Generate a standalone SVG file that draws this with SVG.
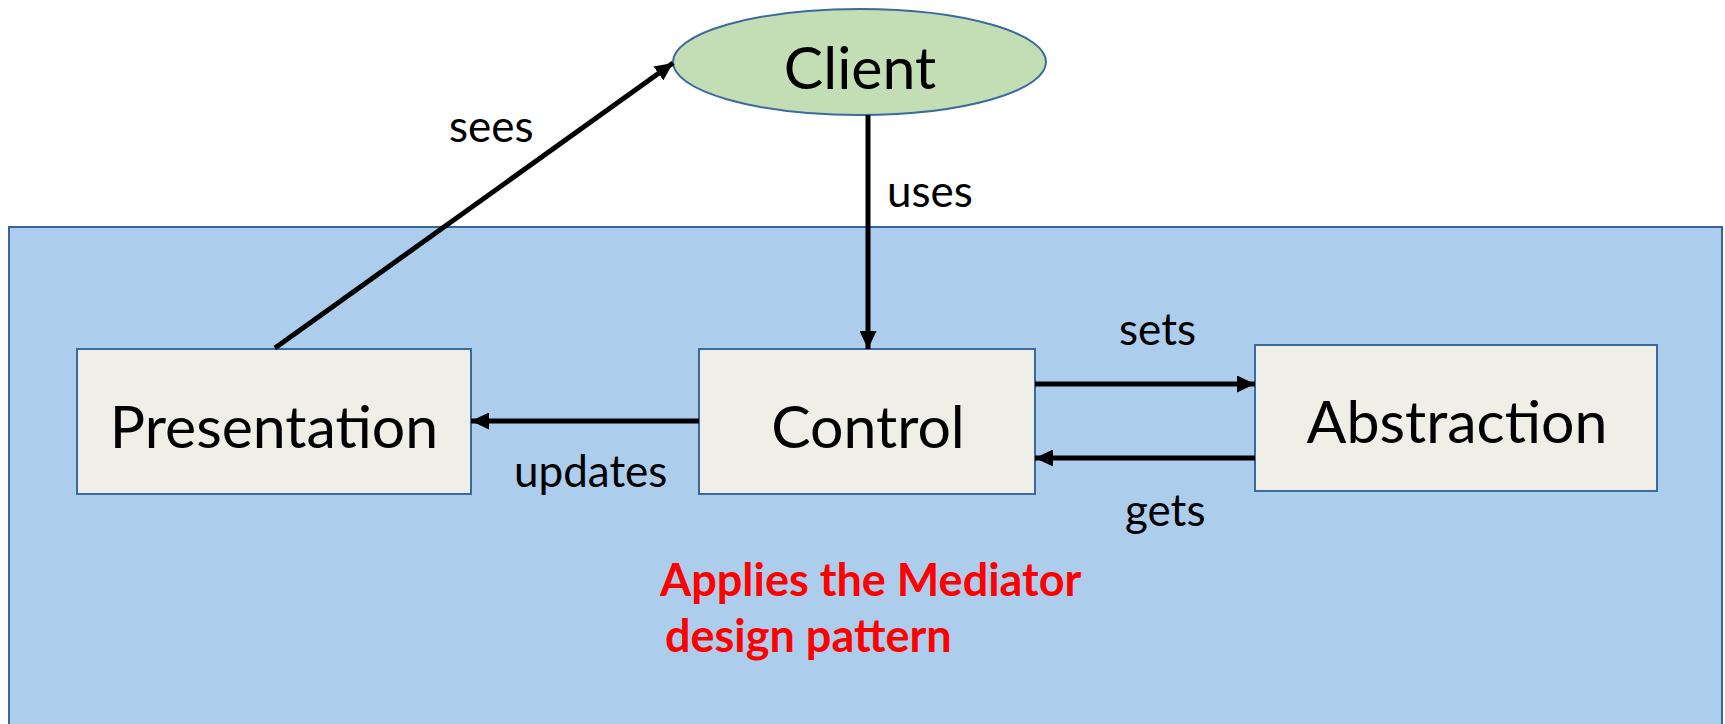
<svg xmlns="http://www.w3.org/2000/svg" width="1725" height="724" viewBox="0 0 1725 724">
  <style>
    .panel { fill: #adcdec; stroke: #3465a0; stroke-width: 2; }
    .box { fill: #efefe8; stroke: #3a6a9e; stroke-width: 2; }
    .ellipse { fill: #c3ddb5; stroke: #3a6a9e; stroke-width: 2; }
    .name { font-family: Lato, "Open Sans", sans-serif; font-size: 59px; fill: #000; text-anchor: middle; }
    .label { font-family: Lato, "Open Sans", sans-serif; font-size: 44px; fill: #000; }
    .note { font-family: Lato, "Open Sans", sans-serif; font-size: 45px; font-weight: bold; fill: #ff0000; }
    .edge { stroke: #000; stroke-width: 5; fill: none; marker-end: url(#head); }
  </style>
  <defs>
    <marker id="head" markerUnits="userSpaceOnUse" markerWidth="19" markerHeight="17" refX="18" refY="8.5" orient="auto">
      <path d="M0,0 L18,8.5 L0,17 Z" fill="#000"/>
    </marker>
  </defs>

  <rect width="1725" height="724" fill="#ffffff"/>

  <!-- container panel -->
  <rect class="panel" x="9" y="227" width="1713" height="510"/>

  <g id="client">
    <ellipse class="ellipse" cx="859.5" cy="62" rx="186.5" ry="53"/>
    <text class="name" x="860" y="89">Client</text>
  </g>

  <g id="presentation">
    <rect class="box" x="77" y="349" width="394" height="145"/>
    <text class="name" x="274" y="448">Presentation</text>
  </g>

  <g id="control">
    <rect class="box" x="699" y="349" width="336" height="145"/>
    <text class="name" x="868" y="448">Control</text>
  </g>

  <g id="abstraction">
    <rect class="box" x="1255" y="345" width="402" height="146"/>
    <text class="name" x="1457" y="443">Abstraction</text>
  </g>

  <g id="connectors">
    <line class="edge" x1="275" y1="348" x2="673" y2="63"/>
    <line class="edge" x1="868" y1="115" x2="868" y2="349"/>
    <line class="edge" x1="1035" y1="384" x2="1255" y2="384"/>
    <line class="edge" x1="1255" y1="458" x2="1035" y2="458"/>
    <line class="edge" x1="699" y1="421" x2="471" y2="421"/>
    <text class="label" x="449" y="142">sees</text>
    <text class="label" x="887" y="207">uses</text>
    <text class="label" x="1119" y="345">sets</text>
    <text class="label" x="1125" y="526">gets</text>
    <text class="label" x="514" y="487">updates</text>
  </g>

  <g id="note">
    <text class="note" x="660" y="596">Applies the Mediator</text>
    <text class="note" x="665" y="652">design pattern</text>
  </g>
</svg>
